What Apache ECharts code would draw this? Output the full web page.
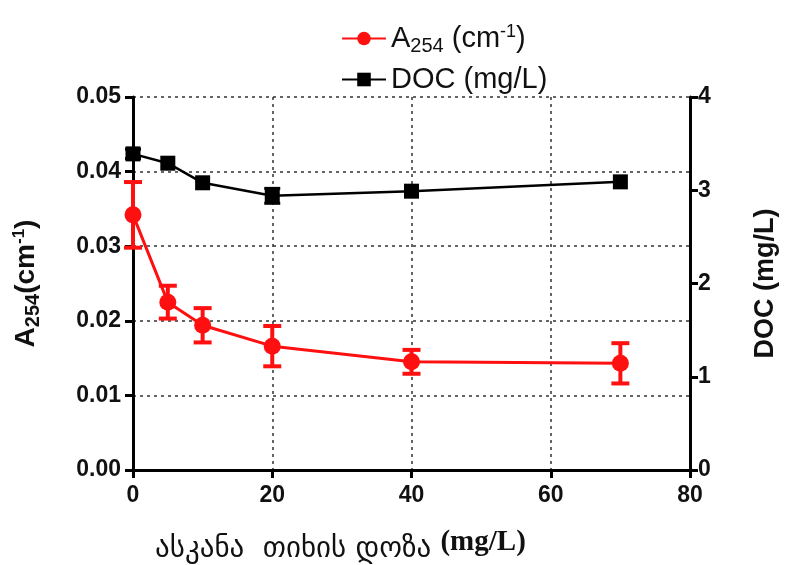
<!DOCTYPE html>
<html>
<head>
<meta charset="utf-8">
<script src="https://cdn.jsdelivr.net/npm/echarts@6/dist/echarts.min.js"></script>
<style>
  html, body { margin: 0; padding: 0; background: #fff; }
  #chart { width: 787px; height: 565px; }
</style>
</head>
<body>
<div id="chart"></div>
<script>
// clay dose (mg/L)
const doses = [0, 5, 10, 20, 40, 70];
// A254 (cm-1), mean and error
const a254 = [0.0342, 0.0225, 0.0194, 0.0166, 0.0145, 0.0143];
const a254Err = [0.0044, 0.0022, 0.0023, 0.0027, 0.0016, 0.0027];
// DOC (mg/L), mean and error
const doc = [3.39, 3.29, 3.08, 2.94, 2.99, 3.09];
const docErr = [0.05, 0, 0, 0.08, 0, 0];

const xTicks = [0, 20, 40, 60, 80];

const chart = echarts.init(document.getElementById('chart'));
const font = '"Liberation Sans", Arial, sans-serif';

const errData = (vals, errs) => vals.map((v, i) => [doses[i], v - errs[i], v + errs[i]]);

const errorBars = (color, lineW, capW) => (params, api) => {
  if (api.value(2) - api.value(1) <= 0) return null;
  const lo = api.coord([api.value(0), api.value(1)]);
  const hi = api.coord([api.value(0), api.value(2)]);
  const style = { stroke: color, lineWidth: lineW };
  return {
    type: 'group',
    children: [
      { type: 'line', shape: { x1: hi[0], y1: hi[1], x2: lo[0], y2: lo[1] }, style },
      { type: 'line', shape: { x1: hi[0] - capW, y1: hi[1], x2: hi[0] + capW, y2: hi[1] }, style },
      { type: 'line', shape: { x1: lo[0] - capW, y1: lo[1], x2: lo[0] + capW, y2: lo[1] }, style }
    ]
  };
};

const option = {
  backgroundColor: '#fff',
  animation: false,
  grid: { left: 133, right: 95, top: 97, bottom: 95 },
  legend: {
    orient: 'vertical',
    left: 336,
    top: 18,
    itemWidth: 44,
    itemHeight: 17,
    itemGap: 9,
    data: ['A254', 'DOC'],
    formatter: name => name === 'A254'
      ? '{n|A}{sub|254}{n| (cm}{sup|-1}{n|)}'
      : '{n|DOC (mg/L)}',
    textStyle: {
      color: '#111',
      fontFamily: font,
      rich: {
        n: { fontSize: 29, fontFamily: font, color: '#111' },
        sub: { fontSize: 20, fontFamily: font, color: '#111', padding: [15, 0, 0, 0] },
        sup: { fontSize: 18, fontFamily: font, color: '#111', padding: [0, 0, 13, 0] }
      }
    }
  },
  xAxis: {
    type: 'value',
    min: 0,
    max: 80,
    interval: 20,
    axisLine: { lineStyle: { color: '#000', width: 3 } },
    axisTick: { inside: false, length: 8, lineStyle: { color: '#000', width: 3 } },
    axisLabel: {
      color: '#111', fontFamily: font, fontWeight: 'bold', fontSize: 23, margin: 14,
      customValues: xTicks
    },
    splitLine: { show: true, lineStyle: { color: '#333', type: [3, 4], width: 1.5 } }
  },
  yAxis: [
    {
      type: 'value',
      min: 0,
      max: 0.05,
      interval: 0.01,
      position: 'left',
      name: '{n|A}{sub|254}{n|(cm}{sup|-1}{n|)}',
      nameLocation: 'middle',
      nameGap: 90,
      nameRotate: 90,
      nameTextStyle: {
        rich: {
          n: { fontSize: 28, fontWeight: 'bold', fontFamily: font, color: '#111' },
          sub: { fontSize: 20, fontWeight: 'bold', fontFamily: font, color: '#111', padding: [14, 0, 0, 0] },
          sup: { fontSize: 17, fontWeight: 'bold', fontFamily: font, color: '#111', padding: [0, 0, 14, 0] }
        }
      },
      axisLine: { show: true, lineStyle: { color: '#000', width: 3 } },
      axisTick: { show: true, length: 8, lineStyle: { color: '#000', width: 3 } },
      axisLabel: {
        color: '#111', fontFamily: font, fontWeight: 'bold', fontSize: 23, margin: 12,
        formatter: v => v.toFixed(2)
      },
      splitLine: { show: true, lineStyle: { color: '#333', type: [3, 4], width: 1.5 } }
    },
    {
      type: 'value',
      min: 0,
      max: 4,
      interval: 1,
      position: 'right',
      name: 'DOC (mg/L)',
      nameLocation: 'middle',
      nameGap: 62,
      nameRotate: 90,
      nameTextStyle: { fontSize: 27, fontWeight: 'bold', fontFamily: font, color: '#111' },
      axisLine: { show: true, lineStyle: { color: '#000', width: 3 } },
      axisTick: { show: true, length: 8, lineStyle: { color: '#000', width: 3 } },
      axisLabel: { color: '#111', fontFamily: font, fontWeight: 'bold', fontSize: 23, margin: 8 },
      splitLine: { show: false }
    }
  ],
  graphic: [
    {
      type: 'text',
      left: 155,
      top: 528,
      style: {
        text: '{g|ასკანა  თიხის დოზა }{u|(mg/L)}',
        rich: {
          g: { fontSize: 29, fontFamily: '"DejaVu Sans", sans-serif', fill: '#111', padding: [8, 0, 0, 0] },
          u: { fontSize: 29, fontWeight: 'bold', fontFamily: '"Liberation Serif", "DejaVu Serif", serif', fill: '#111', padding: [0, 0, 6, 0] }
        }
      }
    }
  ],
  series: [
    {
      name: 'DOC',
      type: 'line',
      yAxisIndex: 1,
      data: doses.map((d, i) => [d, doc[i]]),
      symbol: 'rect',
      symbolSize: 15,
      itemStyle: { color: '#000' },
      lineStyle: { color: '#000', width: 2.5 },
      z: 3
    },
    {
      name: 'DOC err',
      type: 'custom',
      yAxisIndex: 1,
      data: errData(doc, docErr),
      encode: { x: 0, y: [1, 2] },
      renderItem: errorBars('#000', 3, 8),
      z: 3
    },
    {
      name: 'A254',
      type: 'line',
      yAxisIndex: 0,
      data: doses.map((d, i) => [d, a254[i]]),
      symbol: 'circle',
      symbolSize: 17,
      itemStyle: { color: '#ff1010' },
      lineStyle: { color: '#ff1010', width: 3 },
      z: 4
    },
    {
      name: 'A254 err',
      type: 'custom',
      yAxisIndex: 0,
      data: errData(a254, a254Err),
      encode: { x: 0, y: [1, 2] },
      renderItem: errorBars('#ff1010', 4, 9),
      z: 4
    }
  ]
};

chart.setOption(option);
</script>
</body>
</html>
